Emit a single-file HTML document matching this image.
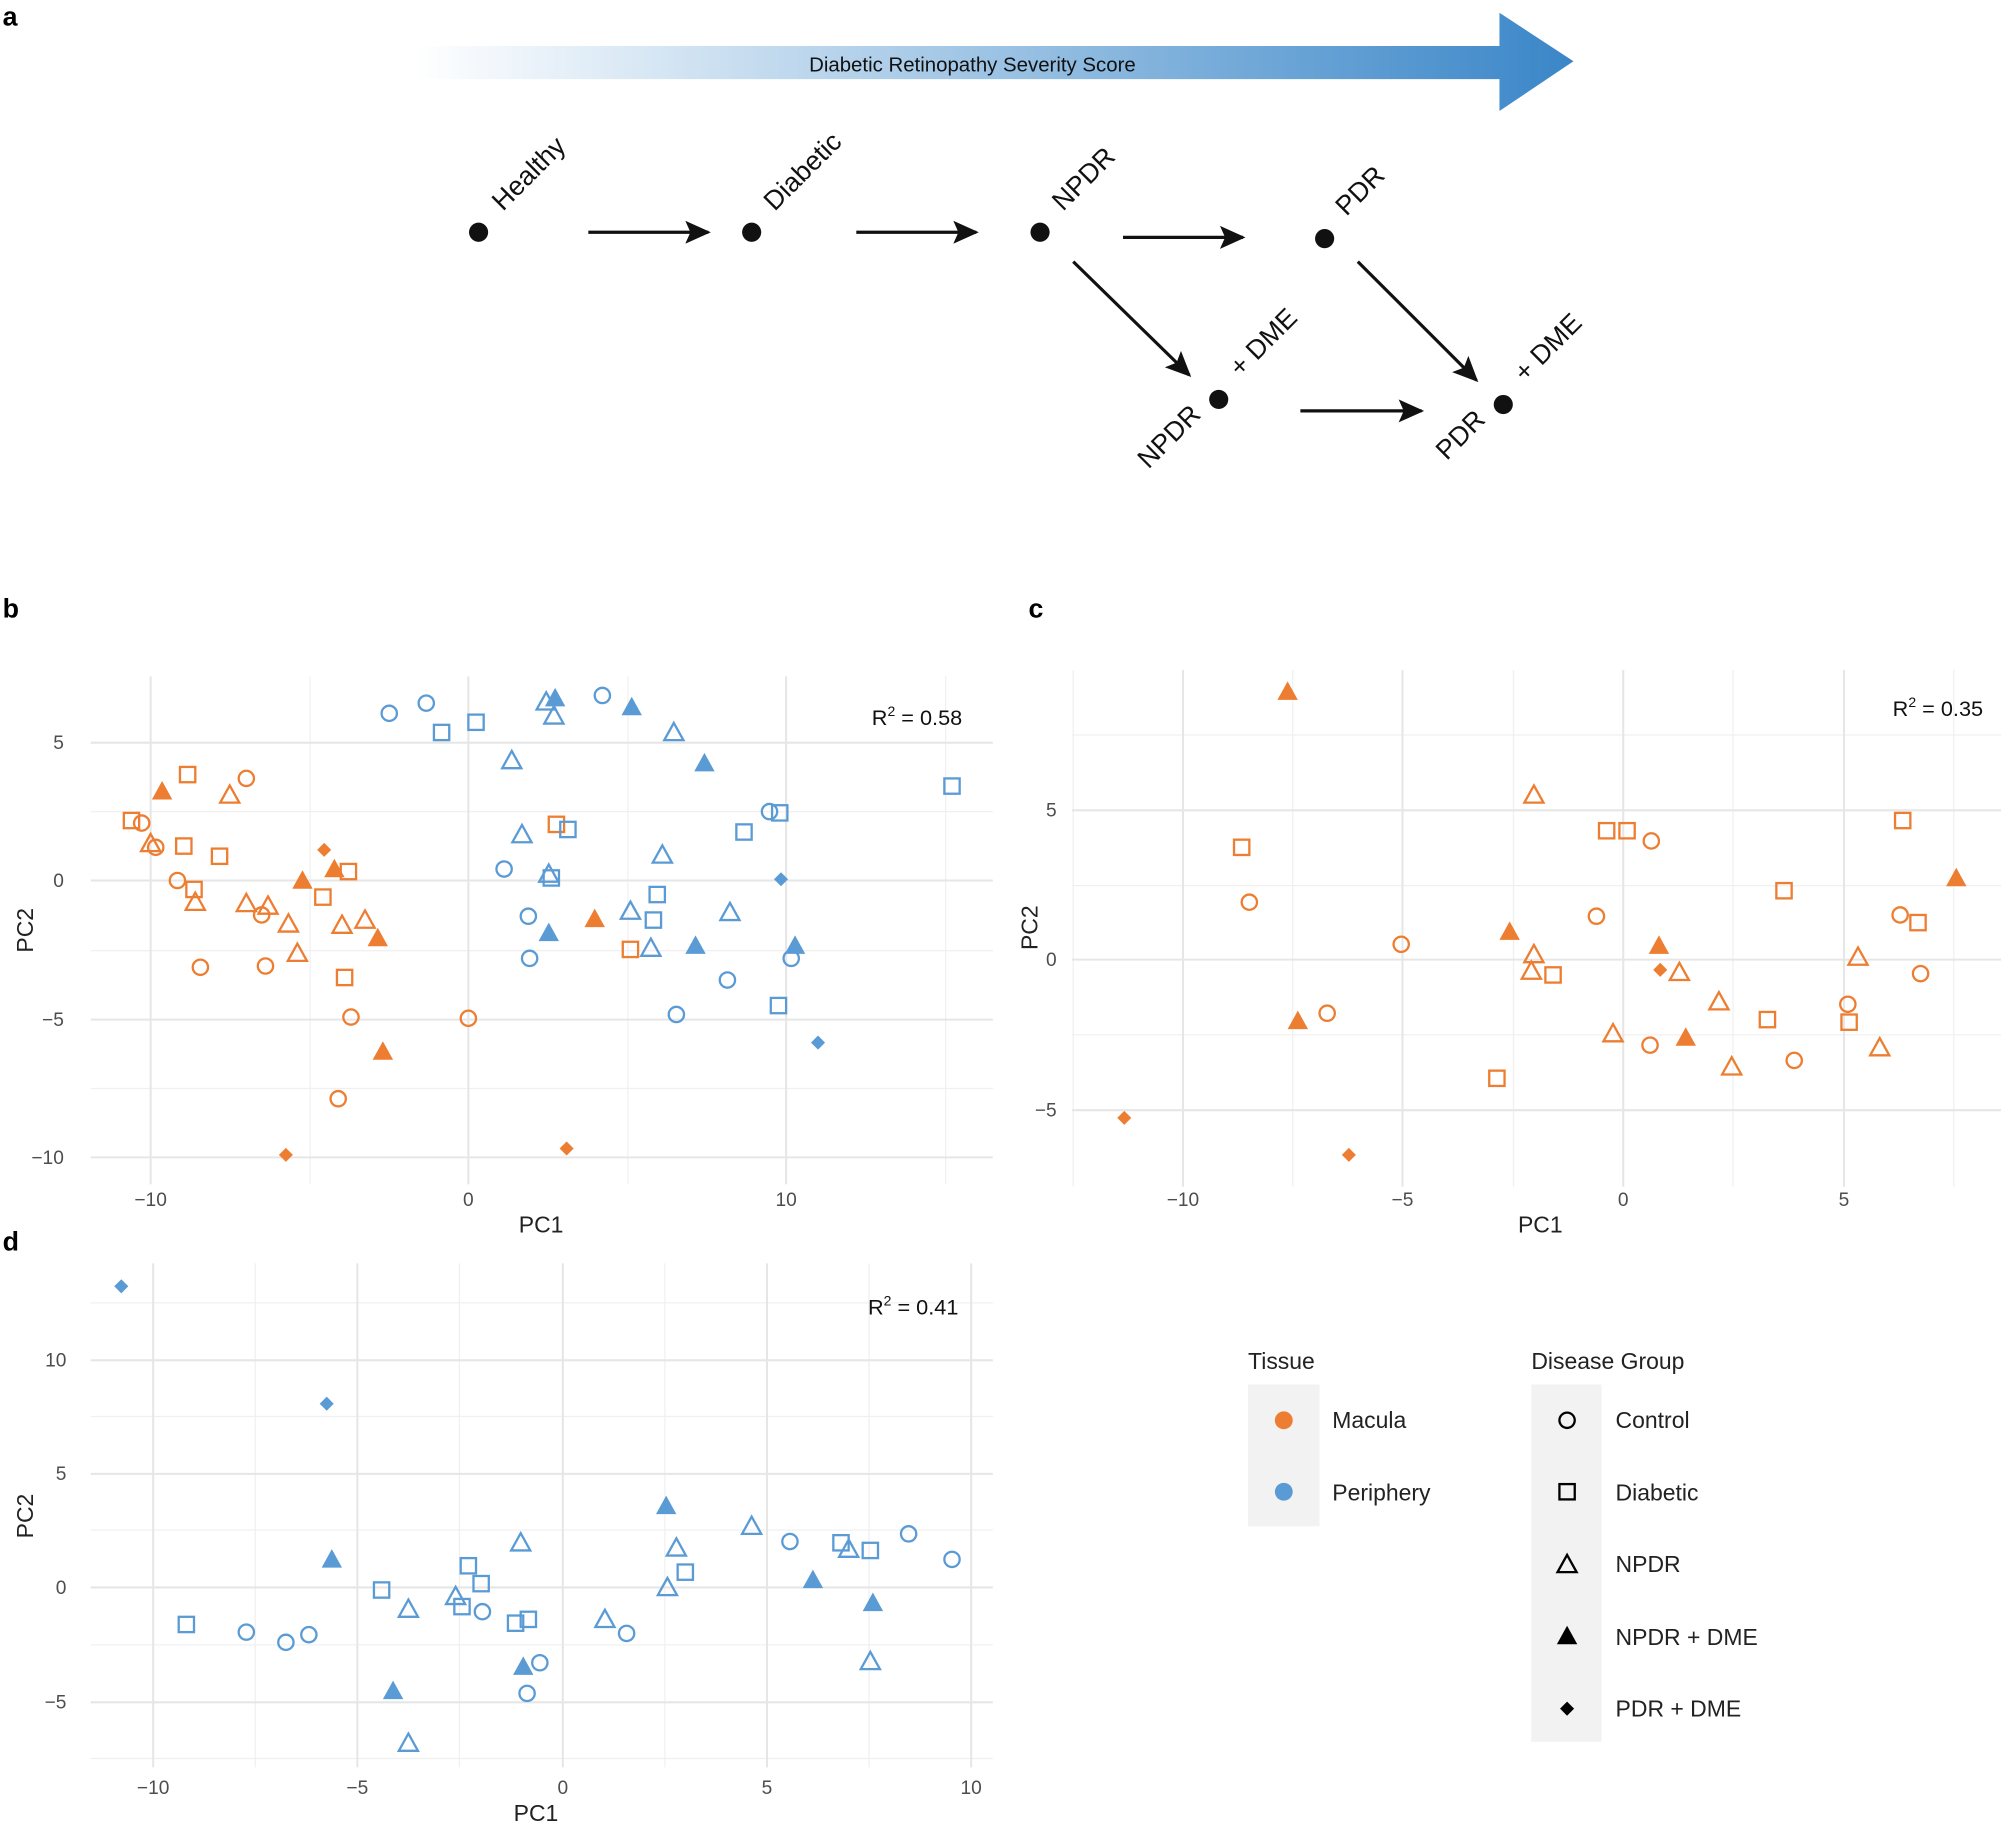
<!DOCTYPE html>
<html><head><meta charset="utf-8"><style>html,body{margin:0;padding:0;background:#fff}svg{display:block}</style></head><body>
<svg width="2001" height="1828" viewBox="0 0 1568 1432.5" xmlns="http://www.w3.org/2000/svg" font-family="Liberation Sans, sans-serif">
<defs>
<linearGradient id="g" x1="0" x2="1"><stop offset="0" stop-color="#fff"/><stop offset="0.5" stop-color="#9cc3e4"/><stop offset="1" stop-color="#3a86c8"/></linearGradient>
<marker id="ah" markerWidth="20" markerHeight="18" refX="18" refY="9" orient="auto" markerUnits="userSpaceOnUse"><path d="M0,0 L20,9 L0,18 L4,9 Z" fill="#111"/></marker>
<symbol id="ci" viewBox="-8 -8 16 16" overflow="visible"><circle r="6" fill="none" stroke="currentColor" stroke-width="1.8"/></symbol>
<symbol id="sq" viewBox="-8 -8 16 16" overflow="visible"><rect x="-6" y="-6" width="12" height="12" fill="none" stroke="currentColor" stroke-width="1.8"/></symbol>
<symbol id="ot" viewBox="-8 -8 16 16" overflow="visible"><path d="M0,-7.5 L7.5,6 L-7.5,6 Z" fill="none" stroke="currentColor" stroke-width="1.8"/></symbol>
<symbol id="ft" viewBox="-8 -8 16 16" overflow="visible"><path d="M0,-8 L8,6.5 L-8,6.5 Z" fill="currentColor"/></symbol>
<symbol id="di" viewBox="-8 -8 16 16" overflow="visible"><path d="M0,-5.5 L5.5,0 L0,5.5 L-5.5,0 Z" fill="currentColor"/></symbol>
</defs>
<g font-weight="bold" font-size="21" fill="#000"><text x="2" y="20">a</text><text x="2" y="484">b</text><text x="806" y="484">c</text><text x="2" y="980">d</text></g>
<path d="M325,36 L1175,36 L1175,10 L1233,48 L1175,87 L1175,62 L325,62 Z" fill="url(#g)"/>
<text x="762" y="56" font-size="16" text-anchor="middle" fill="#111">Diabetic Retinopathy Severity Score</text>
<g fill="#111">
<circle cx="375" cy="182" r="7.5"/><circle cx="589" cy="182" r="7.5"/><circle cx="815" cy="182" r="7.5"/><circle cx="1038" cy="187" r="7.5"/><circle cx="955" cy="313" r="7.5"/><circle cx="1178" cy="317" r="7.5"/>
</g>
<g stroke="#111" stroke-width="2.5" marker-end="url(#ah)">
<line x1="461" y1="182" x2="555" y2="182"/><line x1="671" y1="182" x2="765" y2="182"/><line x1="880" y1="186" x2="974" y2="186"/><line x1="841" y1="205" x2="932" y2="294"/><line x1="1064" y1="205" x2="1157" y2="298"/><line x1="1019" y1="322" x2="1114" y2="322"/>
</g>
<g font-size="21" fill="#111">
<text transform="translate(394,166) rotate(-45)">Healthy</text>
<text transform="translate(607,166) rotate(-45)">Diabetic</text>
<text transform="translate(833,166) rotate(-45)">NPDR</text>
<text transform="translate(1055,170) rotate(-45)">PDR</text>
<text transform="translate(972,296) rotate(-45)">+ DME</text>
<text transform="translate(942,326) rotate(-45)" text-anchor="end">NPDR</text>
<text transform="translate(1195,300) rotate(-45)">+ DME</text>
<text transform="translate(1165,330) rotate(-45)" text-anchor="end">PDR</text>
</g>
<g stroke="#f0f0f0" stroke-width="1"><line x1="71" x2="778" y1="636" y2="636"/><line x1="71" x2="778" y1="745" y2="745"/><line x1="71" x2="778" y1="853" y2="853"/><line x1="243" x2="243" y1="530" y2="928"/><line x1="492" x2="492" y1="530" y2="928"/><line x1="741" x2="741" y1="530" y2="928"/></g>
<g stroke="#e6e6e6" stroke-width="1.6"><line x1="71" x2="778" y1="582" y2="582"/><line x1="71" x2="778" y1="690" y2="690"/><line x1="71" x2="778" y1="799" y2="799"/><line x1="71" x2="778" y1="907" y2="907"/><line x1="118" x2="118" y1="530" y2="928"/><line x1="367" x2="367" y1="530" y2="928"/><line x1="616" x2="616" y1="530" y2="928"/></g>
<g font-size="15" fill="#4d4d4d" text-anchor="end"><text x="50" y="587">5</text><text x="50" y="695">0</text><text x="50" y="804">−5</text><text x="50" y="912">−10</text></g>
<g font-size="15" fill="#4d4d4d" text-anchor="middle"><text x="118" y="945">−10</text><text x="367" y="945">0</text><text x="616" y="945">10</text></g>
<text x="424" y="966" font-size="18" text-anchor="middle" fill="#222">PC1</text>
<text transform="translate(26,729) rotate(-90)" font-size="18" text-anchor="middle" fill="#222">PC2</text>
<text x="754" y="568" font-size="17" text-anchor="end" fill="#111">R<tspan font-size="11" dy="-7">2</tspan><tspan dy="7"> = 0.58</tspan></text>
<g stroke="#f0f0f0" stroke-width="1"><line x1="840" x2="1568" y1="576" y2="576"/><line x1="840" x2="1568" y1="694" y2="694"/><line x1="840" x2="1568" y1="811" y2="811"/><line x1="1013" x2="1013" y1="525" y2="930"/><line x1="1186" x2="1186" y1="525" y2="930"/><line x1="1358" x2="1358" y1="525" y2="930"/><line x1="1531" x2="1531" y1="525" y2="930"/><line x1="841" x2="841" y1="525" y2="930"/></g>
<g stroke="#e6e6e6" stroke-width="1.6"><line x1="840" x2="1568" y1="635" y2="635"/><line x1="840" x2="1568" y1="752" y2="752"/><line x1="840" x2="1568" y1="870" y2="870"/><line x1="927" x2="927" y1="525" y2="930"/><line x1="1099" x2="1099" y1="525" y2="930"/><line x1="1272" x2="1272" y1="525" y2="930"/><line x1="1445" x2="1445" y1="525" y2="930"/></g>
<g font-size="15" fill="#4d4d4d" text-anchor="end"><text x="828" y="640">5</text><text x="828" y="757">0</text><text x="828" y="875">−5</text></g>
<g font-size="15" fill="#4d4d4d" text-anchor="middle"><text x="927" y="945">−10</text><text x="1099" y="945">−5</text><text x="1272" y="945">0</text><text x="1445" y="945">5</text></g>
<text x="1207" y="966" font-size="18" text-anchor="middle" fill="#222">PC1</text>
<text transform="translate(813,727) rotate(-90)" font-size="18" text-anchor="middle" fill="#222">PC2</text>
<text x="1554" y="561" font-size="17" text-anchor="end" fill="#111">R<tspan font-size="11" dy="-7">2</tspan><tspan dy="7"> = 0.35</tspan></text>
<g stroke="#f0f0f0" stroke-width="1"><line x1="71" x2="778" y1="1021" y2="1021"/><line x1="71" x2="778" y1="1110" y2="1110"/><line x1="71" x2="778" y1="1199" y2="1199"/><line x1="71" x2="778" y1="1289" y2="1289"/><line x1="71" x2="778" y1="1378" y2="1378"/><line x1="200" x2="200" y1="990" y2="1385"/><line x1="360" x2="360" y1="990" y2="1385"/><line x1="521" x2="521" y1="990" y2="1385"/><line x1="681" x2="681" y1="990" y2="1385"/></g>
<g stroke="#e6e6e6" stroke-width="1.6"><line x1="71" x2="778" y1="1066" y2="1066"/><line x1="71" x2="778" y1="1155" y2="1155"/><line x1="71" x2="778" y1="1244" y2="1244"/><line x1="71" x2="778" y1="1334" y2="1334"/><line x1="120" x2="120" y1="990" y2="1385"/><line x1="280" x2="280" y1="990" y2="1385"/><line x1="441" x2="441" y1="990" y2="1385"/><line x1="601" x2="601" y1="990" y2="1385"/><line x1="761" x2="761" y1="990" y2="1385"/></g>
<g font-size="15" fill="#4d4d4d" text-anchor="end"><text x="52" y="1071">10</text><text x="52" y="1160">5</text><text x="52" y="1249">0</text><text x="52" y="1339">−5</text></g>
<g font-size="15" fill="#4d4d4d" text-anchor="middle"><text x="120" y="1406">−10</text><text x="280" y="1406">−5</text><text x="441" y="1406">0</text><text x="601" y="1406">5</text><text x="761" y="1406">10</text></g>
<text x="420" y="1427" font-size="18" text-anchor="middle" fill="#222">PC1</text>
<text transform="translate(26,1188) rotate(-90)" font-size="18" text-anchor="middle" fill="#222">PC2</text>
<text x="751" y="1030" font-size="17" text-anchor="end" fill="#111">R<tspan font-size="11" dy="-7">2</tspan><tspan dy="7"> = 0.41</tspan></text>
<g color="#ED7D31" transform="translate(-8,-8)">
<use href="#ci" x="111" y="645" width="16" height="16"/><use href="#ci" x="122" y="664" width="16" height="16"/><use href="#ci" x="193" y="610" width="16" height="16"/><use href="#ci" x="139" y="690" width="16" height="16"/><use href="#ci" x="157" y="758" width="16" height="16"/><use href="#ci" x="205" y="717" width="16" height="16"/><use href="#ci" x="208" y="757" width="16" height="16"/><use href="#ci" x="275" y="797" width="16" height="16"/><use href="#ci" x="265" y="861" width="16" height="16"/><use href="#ci" x="367" y="798" width="16" height="16"/>
<use href="#sq" x="103" y="643" width="16" height="16"/><use href="#sq" x="147" y="607" width="16" height="16"/><use href="#sq" x="144" y="663" width="16" height="16"/><use href="#sq" x="152" y="697" width="16" height="16"/><use href="#sq" x="172" y="671" width="16" height="16"/><use href="#sq" x="253" y="703" width="16" height="16"/><use href="#sq" x="273" y="683" width="16" height="16"/><use href="#sq" x="270" y="766" width="16" height="16"/><use href="#sq" x="436" y="646" width="16" height="16"/><use href="#sq" x="494" y="744" width="16" height="16"/>
<use href="#ot" x="118" y="661" width="16" height="16"/><use href="#ot" x="180" y="623" width="16" height="16"/><use href="#ot" x="153" y="707" width="16" height="16"/><use href="#ot" x="193" y="708" width="16" height="16"/><use href="#ot" x="210" y="710" width="16" height="16"/><use href="#ot" x="226" y="724" width="16" height="16"/><use href="#ot" x="233" y="747" width="16" height="16"/><use href="#ot" x="268" y="725" width="16" height="16"/><use href="#ot" x="286" y="721" width="16" height="16"/>
<use href="#ft" x="127" y="620" width="16" height="16"/><use href="#ft" x="237" y="690" width="16" height="16"/><use href="#ft" x="262" y="681" width="16" height="16"/><use href="#ft" x="296" y="735" width="16" height="16"/><use href="#ft" x="300" y="824" width="16" height="16"/><use href="#ft" x="466" y="720" width="16" height="16"/>
<use href="#di" x="254" y="666" width="16" height="16"/><use href="#di" x="224" y="905" width="16" height="16"/><use href="#di" x="444" y="900" width="16" height="16"/>
<use href="#ft" x="1009" y="542" width="16" height="16"/><use href="#ft" x="1183" y="730" width="16" height="16"/><use href="#ft" x="1017" y="800" width="16" height="16"/><use href="#ft" x="1300" y="741" width="16" height="16"/><use href="#ft" x="1321" y="813" width="16" height="16"/><use href="#ft" x="1533" y="688" width="16" height="16"/>
<use href="#ot" x="1202" y="623" width="16" height="16"/><use href="#ot" x="1202" y="748" width="16" height="16"/><use href="#ot" x="1200" y="761" width="16" height="16"/><use href="#ot" x="1316" y="762" width="16" height="16"/><use href="#ot" x="1264" y="810" width="16" height="16"/><use href="#ot" x="1347" y="785" width="16" height="16"/><use href="#ot" x="1357" y="836" width="16" height="16"/><use href="#ot" x="1456" y="750" width="16" height="16"/><use href="#ot" x="1473" y="821" width="16" height="16"/>
<use href="#sq" x="973" y="664" width="16" height="16"/><use href="#sq" x="1259" y="651" width="16" height="16"/><use href="#sq" x="1275" y="651" width="16" height="16"/><use href="#sq" x="1398" y="698" width="16" height="16"/><use href="#sq" x="1491" y="643" width="16" height="16"/><use href="#sq" x="1503" y="723" width="16" height="16"/><use href="#sq" x="1217" y="764" width="16" height="16"/><use href="#sq" x="1385" y="799" width="16" height="16"/><use href="#sq" x="1449" y="801" width="16" height="16"/><use href="#sq" x="1173" y="845" width="16" height="16"/>
<use href="#ci" x="979" y="707" width="16" height="16"/><use href="#ci" x="1098" y="740" width="16" height="16"/><use href="#ci" x="1040" y="794" width="16" height="16"/><use href="#ci" x="1294" y="659" width="16" height="16"/><use href="#ci" x="1251" y="718" width="16" height="16"/><use href="#ci" x="1293" y="819" width="16" height="16"/><use href="#ci" x="1406" y="831" width="16" height="16"/><use href="#ci" x="1448" y="787" width="16" height="16"/><use href="#ci" x="1489" y="717" width="16" height="16"/><use href="#ci" x="1505" y="763" width="16" height="16"/>
<use href="#di" x="881" y="876" width="16" height="16"/><use href="#di" x="1057" y="905" width="16" height="16"/><use href="#di" x="1301" y="760" width="16" height="16"/>
</g>
<g color="#5B9BD5" transform="translate(-8,-8)">
<use href="#ci" x="305" y="559" width="16" height="16"/><use href="#ci" x="334" y="551" width="16" height="16"/><use href="#ci" x="472" y="545" width="16" height="16"/><use href="#ci" x="395" y="681" width="16" height="16"/><use href="#ci" x="414" y="718" width="16" height="16"/><use href="#ci" x="415" y="751" width="16" height="16"/><use href="#ci" x="530" y="795" width="16" height="16"/><use href="#ci" x="570" y="768" width="16" height="16"/><use href="#ci" x="603" y="636" width="16" height="16"/><use href="#ci" x="620" y="751" width="16" height="16"/>
<use href="#sq" x="346" y="574" width="16" height="16"/><use href="#sq" x="373" y="566" width="16" height="16"/><use href="#sq" x="445" y="650" width="16" height="16"/><use href="#sq" x="432" y="688" width="16" height="16"/><use href="#sq" x="583" y="652" width="16" height="16"/><use href="#sq" x="611" y="637" width="16" height="16"/><use href="#sq" x="515" y="701" width="16" height="16"/><use href="#sq" x="512" y="721" width="16" height="16"/><use href="#sq" x="610" y="788" width="16" height="16"/><use href="#sq" x="746" y="616" width="16" height="16"/>
<use href="#ot" x="401" y="596" width="16" height="16"/><use href="#ot" x="409" y="654" width="16" height="16"/><use href="#ot" x="428" y="550" width="16" height="16"/><use href="#ot" x="434" y="561" width="16" height="16"/><use href="#ot" x="430" y="685" width="16" height="16"/><use href="#ot" x="494" y="714" width="16" height="16"/><use href="#ot" x="510" y="743" width="16" height="16"/><use href="#ot" x="528" y="574" width="16" height="16"/><use href="#ot" x="519" y="670" width="16" height="16"/><use href="#ot" x="572" y="715" width="16" height="16"/>
<use href="#ft" x="435" y="547" width="16" height="16"/><use href="#ft" x="495" y="554" width="16" height="16"/><use href="#ft" x="552" y="598" width="16" height="16"/><use href="#ft" x="430" y="731" width="16" height="16"/><use href="#ft" x="545" y="741" width="16" height="16"/><use href="#ft" x="623" y="741" width="16" height="16"/>
<use href="#di" x="612" y="689" width="16" height="16"/><use href="#di" x="641" y="817" width="16" height="16"/>
<use href="#di" x="95" y="1008" width="16" height="16"/><use href="#di" x="256" y="1100" width="16" height="16"/>
<use href="#ft" x="260" y="1222" width="16" height="16"/><use href="#ft" x="308" y="1325" width="16" height="16"/><use href="#ft" x="410" y="1306" width="16" height="16"/><use href="#ft" x="522" y="1180" width="16" height="16"/><use href="#ft" x="637" y="1238" width="16" height="16"/><use href="#ft" x="684" y="1256" width="16" height="16"/>
<use href="#ot" x="320" y="1261" width="16" height="16"/><use href="#ot" x="357" y="1251" width="16" height="16"/><use href="#ot" x="408" y="1209" width="16" height="16"/><use href="#ot" x="474" y="1269" width="16" height="16"/><use href="#ot" x="523" y="1244" width="16" height="16"/><use href="#ot" x="530" y="1213" width="16" height="16"/><use href="#ot" x="589" y="1196" width="16" height="16"/><use href="#ot" x="665" y="1214" width="16" height="16"/><use href="#ot" x="682" y="1302" width="16" height="16"/><use href="#ot" x="320" y="1366" width="16" height="16"/>
<use href="#sq" x="146" y="1273" width="16" height="16"/><use href="#sq" x="299" y="1246" width="16" height="16"/><use href="#sq" x="367" y="1227" width="16" height="16"/><use href="#sq" x="377" y="1241" width="16" height="16"/><use href="#sq" x="362" y="1259" width="16" height="16"/><use href="#sq" x="404" y="1272" width="16" height="16"/><use href="#sq" x="414" y="1269" width="16" height="16"/><use href="#sq" x="537" y="1232" width="16" height="16"/><use href="#sq" x="659" y="1209" width="16" height="16"/><use href="#sq" x="682" y="1215" width="16" height="16"/>
<use href="#ci" x="193" y="1279" width="16" height="16"/><use href="#ci" x="224" y="1287" width="16" height="16"/><use href="#ci" x="242" y="1281" width="16" height="16"/><use href="#ci" x="378" y="1263" width="16" height="16"/><use href="#ci" x="423" y="1303" width="16" height="16"/><use href="#ci" x="413" y="1327" width="16" height="16"/><use href="#ci" x="491" y="1280" width="16" height="16"/><use href="#ci" x="619" y="1208" width="16" height="16"/><use href="#ci" x="712" y="1202" width="16" height="16"/><use href="#ci" x="746" y="1222" width="16" height="16"/>
</g>
<rect x="978" y="1085" width="56" height="111" fill="#f2f2f2"/>
<rect x="1200" y="1085" width="55" height="280" fill="#f2f2f2"/>
<g font-size="18" fill="#222"><text x="978" y="1073">Tissue</text><text x="1200" y="1073">Disease Group</text>
<text x="1044" y="1119">Macula</text><text x="1044" y="1176">Periphery</text>
<text x="1266" y="1119">Control</text><text x="1266" y="1176">Diabetic</text><text x="1266" y="1232">NPDR</text><text x="1266" y="1289">NPDR + DME</text><text x="1266" y="1345">PDR + DME</text></g>
<circle cx="1006" cy="1113" r="7" fill="#ED7D31"/><circle cx="1006" cy="1169" r="7" fill="#5B9BD5"/>
<g color="#000" transform="translate(-8,-8)">
<use href="#ci" x="1228" y="1113" width="16" height="16"/><use href="#sq" x="1228" y="1169" width="16" height="16"/><use href="#ot" x="1228" y="1226" width="16" height="16"/><use href="#ft" x="1228" y="1282" width="16" height="16"/><use href="#di" x="1228" y="1339" width="16" height="16"/>
</g>
</svg>
</body></html>
